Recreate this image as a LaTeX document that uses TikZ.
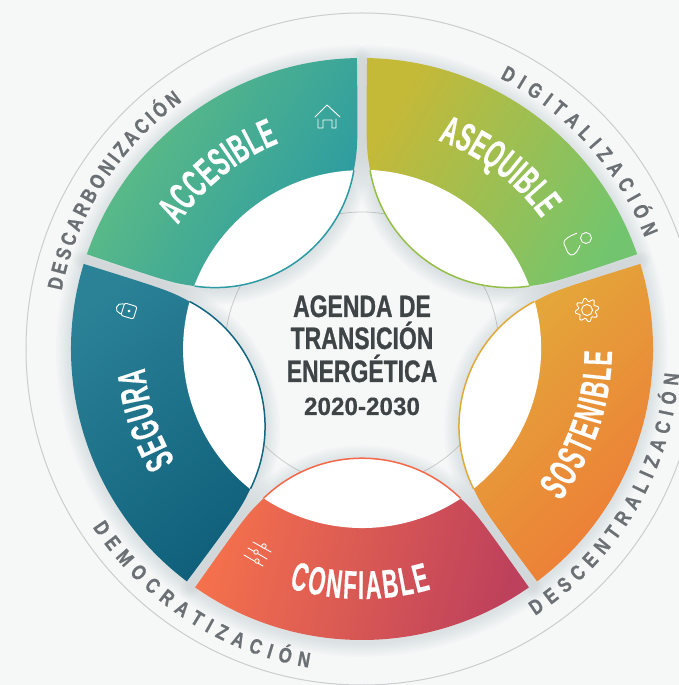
\documentclass[tikz,border=0pt]{standalone}
\usepackage{fontspec}
\usetikzlibrary{decorations.text}
\newfontfamily\titlefont[FakeStretch=0.74, FakeBold=0.8]{Liberation Sans}
\newfontfamily\yearfont[FakeStretch=0.97, FakeBold=0.3]{Liberation Sans}
\newfontfamily\seglabelfont[FakeStretch=0.55, FakeBold=0.3]{Liberation Sans}
\newfontfamily\ringlabelfont[FakeStretch=0.80, FakeBold=0.8]{Liberation Sans}
\newcommand{\segfont}{\seglabelfont\bfseries\fontsize{40}{40}\selectfont\color{white}}
\newcommand{\ringfont}{\ringlabelfont\bfseries\fontsize{21}{21}\selectfont\color{ringtext}}

\definecolor{paper}{HTML}{F6F7F7}
\definecolor{ringline}{HTML}{CBCDCE}
\definecolor{ringtext}{HTML}{6B7074}
\definecolor{titletext}{HTML}{3F4447}
\definecolor{shadowtone}{HTML}{3A4A55}
\definecolor{accA}{HTML}{62BF82}
\definecolor{accB}{HTML}{38B396}
\definecolor{accC}{HTML}{2A9AA3}
\definecolor{accD}{HTML}{2A9AA3}
\definecolor{aseA}{HTML}{C5B938}
\definecolor{aseB}{HTML}{9DBB57}
\definecolor{aseC}{HTML}{72C56E}
\definecolor{aseD}{HTML}{93BF49}
\definecolor{susA}{HTML}{E2AE3A}
\definecolor{susB}{HTML}{E7953A}
\definecolor{susC}{HTML}{EE7A37}
\definecolor{susD}{HTML}{E2A838}
\definecolor{conA}{HTML}{F6724C}
\definecolor{conB}{HTML}{DD5A55}
\definecolor{conC}{HTML}{BD405C}
\definecolor{conD}{HTML}{F2694A}
\definecolor{segA}{HTML}{2B8297}
\definecolor{segB}{HTML}{1A7189}
\definecolor{segC}{HTML}{0F5F7A}
\definecolor{segD}{HTML}{12667F}

% one petal, drawn at the bottom, turned into place by the loops
\newcommand{\petalpath}{(-125:291) arc[start angle=-125,end angle=-55,radius=291]
    .. controls (167-52,-239+74) and (98.5+16,-149-16) .. (98.5,-149.3)
    arc[start angle=45.7,end angle=134.3,radius=141]
    .. controls (-98.5-16,-149-16) and (-167+52,-239+74) .. cycle}
\newcommand{\lenspath}{(98.5,-149.3) arc[start angle=45.7,end angle=134.3,radius=141]
    arc[start angle=-123.5,end angle=-56.5,radius=179] -- cycle}

\tikzset{
    icon/.style={draw=white, line width=0.9pt, line join=round, line cap=round},
    seglabel/.style={decorate, decoration={text along path, text={|\segfont|#1}, text align=fit to path}},
    ringlabel/.style={decorate, decoration={text along path, text={|\ringfont|#1}, text align=fit to path}},
    title/.style={anchor=base, inner sep=0pt, text=titletext},
}

\begin{document}
\begin{tikzpicture}[x=1pt, y=1pt]
    \useasboundingbox (-362,-336) rectangle (317,349);
    \fill[paper] (-362,-336) rectangle (317,349);

    % Rings
    \draw[ringline, line width=1pt] (0,0) circle[radius=336];
    \draw[ringline, line width=0.8pt] (0,0) circle[radius=137];

    % Soft shadows under all the petals
    \foreach \rot in {0,72,144,-72,-144}
        \foreach \w in {3,6,...,30}
            \draw[shadowtone, opacity=0.012, line width=\w pt, line join=round,
                yshift=-2pt, rotate=\rot] \petalpath;

    % Petals, each with its white lens
    \foreach \rot/\colA/\colB/\colC/\colD/\ang in {
            0/conA/conB/conC/conD/75,
            72/susA/susB/susC/susD/45,
            144/aseA/aseB/aseC/aseD/60,
            -72/segA/segB/segC/segD/40,
            -144/accA/accB/accC/accD/60} {
        \begin{scope}[rotate=\rot]
            \shade[left color=\colA, middle color=\colB, right color=\colC, shading angle=\ang] \petalpath;
            \fill[white] \lenspath;
            \draw[draw=\colD, line width=1.5pt] (98.5,-149.3) arc[start angle=45.7,end angle=134.3,radius=141];
        \end{scope}
    }

    % Petal words
    \path[seglabel=ACCESIBLE] (146:222) arc[start angle=146,end angle=112,radius=222];
    \path[seglabel=ASEQUIBLE] (70:222) arc[start angle=70,end angle=36,radius=222];
    \path[seglabel=SOSTENIBLE] (-37.5:250) arc[start angle=-37.5,end angle=-0.5,radius=250];
    \path[seglabel=CONFIABLE] (-107:250) arc[start angle=-107,end angle=-74,radius=250];
    \path[seglabel=SEGURA] (211:218) arc[start angle=211,end angle=185,radius=218];

    % Ring words
    \path[ringlabel=DIGITALIZACIÓN] (63:304) arc[start angle=63,end angle=21.5,radius=304];
    \path[ringlabel=DESCARBONIZACIÓN] (169:306) arc[start angle=169,end angle=126,radius=306];
    \path[ringlabel=DEMOCRATIZACIÓN] (213.5:323) arc[start angle=213.5,end angle=260.5,radius=323];
    \path[ringlabel=DESCENTRALIZACIÓN] (-57:318) arc[start angle=-57,end angle=-4.5,radius=318];

    % Centre title
    \node[title, font=\titlefont\bfseries\fontsize{31}{31}\selectfont] (titleA) at (0,32) {AGENDA DE};
    \node[title, font=\titlefont\bfseries\fontsize{31}{31}\selectfont] (titleB) at (0,0) {TRANSICIÓN};
    \node[title, font=\titlefont\bfseries\fontsize{31}{31}\selectfont] (titleC) at (0,-33) {ENERGÉTICA};
    \node[title, font=\yearfont\bfseries\fontsize{25}{25}\selectfont] (titleD) at (0,-66) {2020-2030};

    % House
    \draw[icon] (-47,232) -- (-35,244) -- (-22,232) (-44,230) -- (-44,221) -- (-39,221) -- (-39,229)
        -- (-30,229) -- (-30,221) -- (-26,221) -- (-26,230);

    % Person
    \draw[icon] (224,111) circle[radius=5.5];
    \draw[icon] plot[smooth, tension=0.8] coordinates {(214.7,115.7) (203,109) (204,100.7) (208.7,94) (214.7,97.3) (218,104)};

    % Gear
    \draw[icon] (225,39) circle[radius=5.5];
    \draw[icon, shift={(225,39)}] plot[smooth cycle, samples=48, domain=0:352.5] (\x:{10.2+1.8*sin(8*\x)});

    % Lock
    \begin{scope}[shift={(-233,38)}, rotate=73]
        \draw[icon, rounded corners=2pt] (-6.5,-6.5) rectangle (6.5,6.5);
        \draw[icon] (-5,6.5) -- (-5,8) arc[start angle=180,end angle=0,radius=5] -- (5,6.5);
        \draw[icon] (0,0) circle[radius=1];
    \end{scope}

    % Sliders
    \draw[icon] (-109,-193) -- (-91,-203) (-114,-199) -- (-95,-210) (-118,-206) -- (-99,-217);
    \filldraw[icon, fill=conA] (-98,-197) circle[radius=2.2] (-106,-203) circle[radius=2.2] (-105,-212) circle[radius=2.2];
\end{tikzpicture}
\end{document}
